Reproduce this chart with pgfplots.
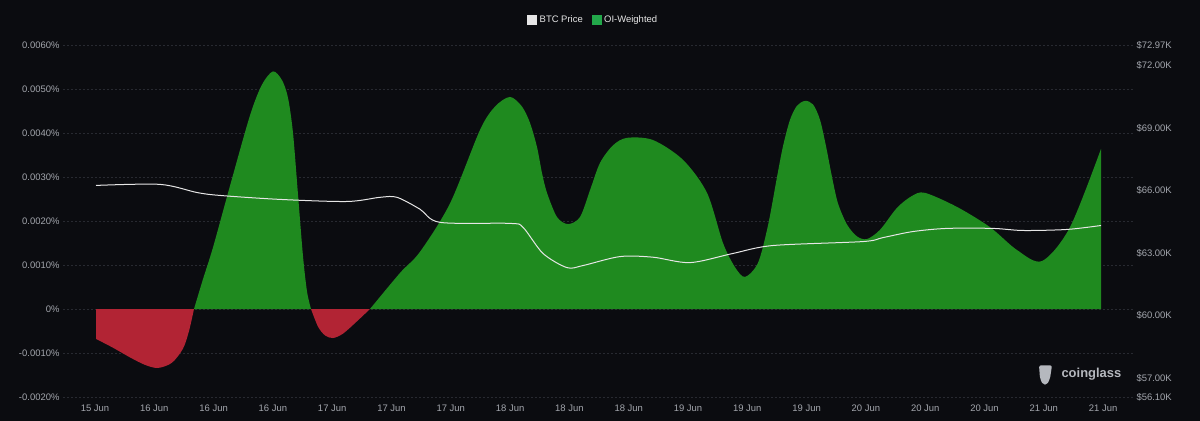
\documentclass[border=0pt]{standalone}
\usepackage{pgfplots}
\pgfplotsset{compat=1.18}
\usepackage{fontspec}
\setmainfont{Liberation Sans}
\definecolor{bg}{HTML}{0B0C10}
\definecolor{oigreen}{HTML}{1F8A1F}
\definecolor{oired}{HTML}{B22434}
\definecolor{gridc}{HTML}{282A31}
\definecolor{tickc}{HTML}{A3A6AD}
\definecolor{legg}{HTML}{22A84A}
\definecolor{btc}{HTML}{E6E6E6}
\definecolor{wm}{HTML}{B5B8BE}
\begin{document}
\begin{tikzpicture}
\fill[bg] (-63bp,-24bp) rectangle (1137bp,397bp);
\begin{axis}[
  scale only axis, width=1070bp, height=352bp,
  xmin=63, xmax=1133, ymin=-0.002, ymax=0.006,
  scaled y ticks=false,
  axis line style={draw=none}, major tick length=0pt,
  ytick={-0.002,-0.001,0,0.001,0.002,0.003,0.004,0.005,0.006},
  yticklabels={-0.0020\%,-0.0010\%,0\%,0.0010\%,0.0020\%,0.0030\%,0.0040\%,0.0050\%,0.0060\%},
  ymajorgrids, grid style={gridc, dash pattern=on 2bp off 2bp, line width=0.8bp},
  xtick={95,154.3,213.6,272.9,332.2,391.5,450.8,510.1,569.4,628.7,688.0,747.3,806.6,865.9,925.2,984.5,1043.8,1103.1},
  xticklabels={15 Jun,16 Jun,16 Jun,16 Jun,17 Jun,17 Jun,17 Jun,18 Jun,18 Jun,18 Jun,19 Jun,19 Jun,19 Jun,20 Jun,20 Jun,20 Jun,21 Jun,21 Jun},
  tick label style={font=\fontsize{9.5}{11}\selectfont, text=tickc},
  xticklabel style={yshift=-4bp},
  legend style={at={(0.496,1.071)}, anchor=center, draw=none, fill=none,
    text=btc, font=\fontsize{9.5}{10}\selectfont,
    /tikz/every even column/.append style={column sep=6bp},
    nodes={inner xsep=3bp}},
  legend columns=2,
]
\addlegendimage{legend image code/.code={\fill[btc] (0bp,-4.5bp) rectangle (9bp,4.5bp);}}
\addlegendentry{BTC Price}
\addlegendimage{legend image code/.code={\fill[legg] (0bp,-4.5bp) rectangle (9bp,4.5bp);}}
\addlegendentry{OI-Weighted}
% OI-weighted funding rate, negative parts
\addplot[draw=none, fill=oired, smooth, forget plot] coordinates {
(96,-0.00068) (113,-0.00088) (130,-0.00110) (145,-0.00127) (158,-0.00134)
(172,-0.00122) (183,-0.00090) (189,-0.00050) (194,0)
} \closedcycle;
\addplot[draw=none, fill=oired, smooth, forget plot] coordinates {
(311,0) (318,-0.00040) (325,-0.00060) (333,-0.00066) (343,-0.00056) (356,-0.00030) (370,0)
} \closedcycle;
% positive parts
\addplot[draw=none, fill=oigreen, smooth, forget plot] coordinates {
(194,0) (203,0.00068) (213,0.0014) (230,0.0028) (250,0.0044) (262,0.0051)
(273,0.0054) (282,0.0052) (288,0.0048) (293,0.0040) (298,0.0026) (303,0.0012)
(307,0.0004) (311,0)
} \closedcycle;
\addplot[draw=none, fill=oigreen, smooth, forget plot] coordinates {
(370,0) (400,0.00082) (420,0.0013) (450,0.0024) (480,0.00407) (495,0.0046)
(510,0.00482) (522,0.0046) (530,0.00423) (537,0.00368) (542,0.00309) (547,0.00264)
(557,0.00209) (568,0.00193) (580,0.00209) (590,0.0027) (600,0.00332) (613,0.00372)
(627,0.00389) (653,0.00384) (683,0.00339) (707,0.00264) (723,0.0015) (735,0.00095)
(745,0.00073) (758,0.00105) (768,0.0019) (777,0.0030) (783,0.0037) (790,0.0043)
(797,0.00462) (805,0.00473) (813,0.00465) (820,0.0043) (826,0.0037) (832,0.0030)
(838,0.0024) (847,0.00192) (857,0.00165) (867,0.00159) (880,0.0018) (897,0.0023)
(912,0.00257) (925,0.00264) (957,0.00232) (990,0.00186) (1017,0.00134) (1042,0.00109)
(1070,0.00186) (1101,0.00364)
} \closedcycle;
\fill[wm, rounded corners=2bp] (axis cs:1039,-0.00128) -- (axis cs:1052,-0.00128) -- (axis cs:1050,-0.00158) -- (axis cs:1047,-0.00172) -- (axis cs:1043,-0.00172) -- (axis cs:1040,-0.00158) -- cycle;
\node[text=wm, font=\fontsize{13}{14}\selectfont\bfseries, anchor=west] at (axis cs:1058,-0.00148) {coinglass};
\end{axis}
\begin{axis}[
  scale only axis, width=1070bp, height=352bp,
  xmin=63, xmax=1133, ymin=56.10, ymax=72.97,
  axis y line*=right, axis x line=none,
  axis line style={draw=none}, major tick length=0pt,
  ytick={56.1,57,60,63,66,69,72,72.97},
  yticklabels={\$56.10K,\$57.00K,\$60.00K,\$63.00K,\$66.00K,\$69.00K,\$72.00K,\$72.97K},
  tick label style={font=\fontsize{9.5}{11}\selectfont, text=tickc},
]
\addplot[btc, line width=1bp, smooth] coordinates {
(96,66.24) (160,66.29) (197,65.9) (220,65.76) (280,65.57)
(347,65.47) (380,65.67) (397,65.67) (420,65.1) (440,64.47) (510,64.42)
(523,64.23) (543,62.98) (567,62.3) (583,62.4) (620,62.83) (653,62.8)
(690,62.54) (733,62.98) (773,63.36) (863,63.55) (883,63.74) (913,64.03)
(947,64.18) (993,64.18) (1023,64.08) (1067,64.13) (1101,64.32)
};
\end{axis}
\pgfresetboundingbox
\path[use as bounding box] (-63bp,-24bp) rectangle (1137bp,397bp);
\end{tikzpicture}
\end{document}
